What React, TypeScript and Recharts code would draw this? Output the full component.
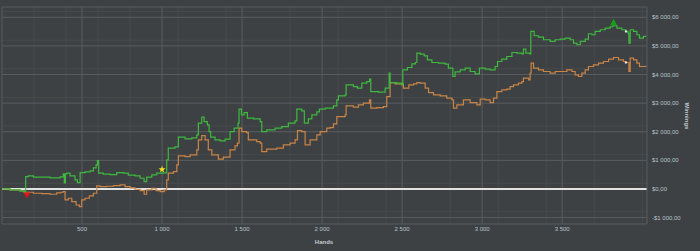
import React from "react";
import {
  LineChart,
  Line,
  XAxis,
  YAxis,
  CartesianGrid,
  ReferenceLine,
  ReferenceDot,
} from "recharts";

const handTicks = [500, 1000, 1500, 2000, 2500, 3000, 3500];
const wonTicks = [-1000, 0, 1000, 2000, 3000, 4000, 5000, 6000];

// winnings (green)
const greenHands = [
  0, 50, 113, 138, 148, 164, 196, 300, 363, 383, 389, 396, 404, 425, 456, 471, 488, 519, 550, 571,
  588, 596, 604, 633, 675, 717, 758, 789, 831, 863, 888, 904, 936, 967, 1008, 1029, 1039, 1081, 1102, 1144,
  1186, 1217, 1227, 1248, 1263, 1283, 1294, 1304, 1331, 1363, 1394, 1425, 1450, 1475, 1481, 1496, 1513, 1533, 1571, 1613,
  1623, 1654, 1706, 1748, 1789, 1831, 1842, 1873, 1889, 1914, 1936, 1967, 1983, 2019, 2071, 2092, 2102, 2144, 2150, 2196,
  2221, 2248, 2279, 2296, 2304, 2352, 2394, 2419, 2425, 2467, 2496, 2504, 2533, 2561, 2583, 2592, 2613, 2638, 2658, 2686,
  2727, 2769, 2789, 2817, 2831, 2863, 2894, 2925, 2956, 2983, 3019, 3050, 3081, 3096, 3123, 3154, 3186, 3217, 3248, 3258,
  3273, 3296, 3304, 3325, 3352, 3383, 3425, 3456, 3488, 3519, 3550, 3571, 3592, 3613, 3644, 3664, 3686, 3706, 3738, 3769,
  3800, 3817, 3842, 3873, 3898, 3911, 3917, 3925, 3946, 3967, 3983, 4008, 4023,
];
const greenWon = [
  0, -35, -70, -105, 430, 455, 410, 385, 420, 525, 210, 525, 550, 455, 315, 220, 570, 595, 630, 735,
  840, 990, 550, 515, 500, 570, 550, 480, 455, 375, 255, 410, 490, 550, 560, 1015, 1425, 1470, 1810, 1750,
  1785, 1890, 2300, 2510, 2355, 2240, 2005, 1810, 1715, 1680, 1740, 2005, 2125, 2300, 2790, 2590, 2670, 2475, 2450, 2355,
  2005, 2065, 2125, 2180, 2300, 2380, 2790, 2730, 2300, 2450, 2590, 2695, 2790, 2825, 2905, 3115, 3255, 3290, 3640, 3580,
  3525, 3700, 3755, 3840, 3405, 3385, 3525, 4050, 3720, 3700, 3640, 4165, 4245, 4375, 4420, 4750, 4715, 4655, 4515, 4420,
  4400, 4365, 4225, 3930, 4095, 4165, 4225, 4105, 4025, 4225, 4190, 4165, 4280, 4455, 4540, 4630, 4770, 4750, 4725, 4890,
  4750, 4725, 5505, 5355, 5310, 5215, 5155, 5215, 5240, 5275, 5215, 5100, 5040, 5155, 5240, 5425, 5390, 5505, 5565, 5625,
  5670, 5705, 5625, 5565, 5505, 5450, 5100, 5565, 5505, 5390, 5275, 5330, 5310,
];

// all-in adjusted (orange)
const orangeHands = [
  0, 50, 113, 138, 196, 248, 300, 342, 367, 383, 394, 414, 436, 463, 483, 498, 519, 546, 571, 592,
  613, 654, 696, 738, 769, 800, 831, 863, 888, 904, 936, 963, 988, 1013, 1029, 1039, 1071, 1092, 1102, 1144,
  1175, 1217, 1227, 1248, 1269, 1289, 1311, 1352, 1383, 1425, 1456, 1471, 1481, 1498, 1529, 1539, 1592, 1613, 1623, 1654,
  1717, 1758, 1800, 1831, 1846, 1873, 1894, 1925, 1967, 1988, 2029, 2050, 2071, 2092, 2144, 2150, 2196, 2227, 2258, 2296,
  2304, 2342, 2383, 2404, 2425, 2456, 2508, 2542, 2571, 2592, 2613, 2644, 2665, 2696, 2738, 2779, 2811, 2821, 2842, 2883,
  2925, 2967, 2988, 3019, 3050, 3071, 3092, 3123, 3154, 3175, 3196, 3227, 3248, 3258, 3290, 3300, 3306, 3321, 3352, 3383,
  3425, 3456, 3529, 3561, 3581, 3602, 3623, 3644, 3664, 3696, 3727, 3758, 3790, 3821, 3852, 3883, 3898, 3917, 3925, 3946,
  3967, 3983, 4023,
];
const orangeWon = [
  0, -35, -70, -115, -150, -165, -185, -140, -115, -95, -385, -325, -445, -560, -620, -385, -325, -245, -150, 105,
  80, 95, 115, 140, 80, 35, -10, -60, -185, -35, 25, -60, -95, -35, 315, 550, 605, 840, 1155, 1130,
  1190, 1365, 1715, 1865, 1715, 1365, 1190, 1040, 1110, 1365, 1505, 1600, 2125, 2005, 1970, 1715, 1655, 1600, 1305, 1390,
  1425, 1540, 1600, 1715, 2040, 2005, 1540, 1715, 1890, 2005, 2125, 2145, 2275, 2530, 2590, 2905, 2860, 2940, 3000, 3115,
  2825, 2845, 2880, 3230, 3720, 3675, 3525, 3640, 3675, 3720, 3700, 3525, 3370, 3290, 3255, 3175, 3115, 2825, 2940, 3115,
  3020, 2940, 3140, 3115, 3020, 3175, 3405, 3465, 3490, 3580, 3640, 3700, 3755, 3875, 3815, 4050, 4400, 4225, 4165, 4105,
  4050, 4105, 4165, 4105, 3990, 3930, 4050, 4165, 4280, 4340, 4400, 4455, 4540, 4595, 4515, 4455, 4420, 4105, 4575, 4515,
  4400, 4280, 4305,
];

const markers = [
  { hand: 156, won: -228, kind: "down" },
  { hand: 1000, won: 683, kind: "star" },
  { hand: 3821, won: 5828, kind: "up" },
  { hand: 3898, won: 5505, kind: "sq" },
  { hand: 3898, won: 4420, kind: "sq" },
];

const greenData = greenHands.map((h, i) => ({ hand: h, won: greenWon[i] }));
const orangeData = orangeHands.map((h, i) => ({ hand: h, won: orangeWon[i] }));

const minorX: number[] = [];
for (let h = 100; h <= 4000; h += 100) if (h % 500 !== 0 || h === 4000) minorX.push(h);
const minorY: number[] = [];
for (let v = -1200; v <= 6200; v += 200) if (v % 1000 !== 0) minorY.push(v);

const FONT = "'Liberation Sans', Arial, sans-serif";
const TXT = "#b9c3cc";

function money(v: number) {
  const s = Math.abs(v).toString().replace(/\B(?=(\d{3})+(?!\d))/g, " ");
  return (v < 0 ? "-" : "") + "$" + s + ",00";
}

function HandTick({ x, y, payload }: any) {
  const s = String(payload.value).replace(/\B(?=(\d{3})+(?!\d))/g, " ");
  return (
    <text x={x} y={y} dy={2.5} textAnchor="middle" fontSize={6} fill={TXT} fontFamily={FONT}>
      {s}
    </text>
  );
}

function WonTick({ x, y, payload }: any) {
  return (
    <text x={x} y={y} dy={2.1} textAnchor="start" fontSize={6} fill={TXT} fontFamily={FONT}>
      {money(payload.value)}
    </text>
  );
}

function Marker(kind: string) {
  return (p: any) => {
    const { cx, cy } = p;
    if (kind === "down")
      return <polygon points={`${cx - 3.5},${cy - 3} ${cx + 3.5},${cy - 3} ${cx},${cy + 3}`} fill="#e01515" />;
    if (kind === "up")
      return <polygon points={`${cx - 3.5},${cy + 3} ${cx + 3.5},${cy + 3} ${cx},${cy - 3.5}`} fill="#14a014" />;
    if (kind === "sq")
      return <rect x={cx - 1} y={cy - 1} width={2} height={2} fill="#f0f0f0" />;
    const pts: string[] = [];
    for (let i = 0; i < 10; i++) {
      const r = i % 2 === 0 ? 3.6 : 1.5;
      const a = -Math.PI / 2 + (i * Math.PI) / 5;
      pts.push(`${cx + r * Math.cos(a)},${cy + r * Math.sin(a)}`);
    }
    return <polygon points={pts.join(" ")} fill="#f2e01a" />;
  };
}

export default function App() {
  return (
    <div style={{ position: "absolute", left: 0, top: 0, width: 700, height: 251, background: "#3d4143" }}>
      <LineChart width={700} height={251} margin={{ top: 7, right: 0, bottom: 0, left: 2 }}>
        <CartesianGrid stroke="#474b4d" strokeWidth={1} horizontalValues={minorY} verticalValues={minorX} />
        <CartesianGrid stroke="#595d5f" strokeWidth={1} horizontalValues={wonTicks} verticalValues={handTicks} />
        <XAxis
          type="number"
          dataKey="hand"
          domain={[0, 4030]}
          ticks={handTicks}
          allowDataOverflow
          height={27}
          axisLine={{ stroke: "#595d5f" }}
          tickLine={false}
          tickSize={3}
          tickMargin={1}
          tick={<HandTick />}
        />
        <YAxis
          orientation="right"
          type="number"
          domain={[-1225, 6360]}
          ticks={wonTicks}
          allowDataOverflow
          width={53}
          axisLine={{ stroke: "#595d5f" }}
          tickLine={false}
          tickSize={3}
          tickMargin={2}
          tick={<WonTick />}
        />
        <ReferenceLine y={6360} stroke="#595d5f" />
        <ReferenceLine x={0} stroke="#595d5f" />
        <ReferenceLine y={0} stroke="#e2e2e2" strokeWidth={2} />
        <Line
          data={orangeData}
          dataKey="won"
          type="stepAfter"
          stroke="#c98446"
          strokeWidth={1.2}
          dot={false}
          isAnimationActive={false}
        />
        <Line
          data={greenData}
          dataKey="won"
          type="stepAfter"
          stroke="#3fb83f"
          strokeWidth={1.2}
          dot={false}
          isAnimationActive={false}
        />
        {markers.map((m, i) => (
          <ReferenceDot key={i} x={m.hand} y={m.won} r={3} shape={Marker(m.kind)} />
        ))}
      </LineChart>
      <div
        style={{
          position: "absolute",
          left: 304,
          top: 239,
          width: 40,
          textAlign: "center",
          fontFamily: FONT,
          fontSize: 6,
          fontWeight: "bold",
          color: "#c4cad0",
        }}
      >
        Hands
      </div>
      <div
        style={{
          position: "absolute",
          left: 667,
          top: 113,
          width: 40,
          textAlign: "center",
          fontFamily: FONT,
          fontSize: 6,
          fontWeight: "bold",
          color: "#c4cad0",
          transform: "rotate(90deg)",
        }}
      >
        Winnings
      </div>
    </div>
  );
}
